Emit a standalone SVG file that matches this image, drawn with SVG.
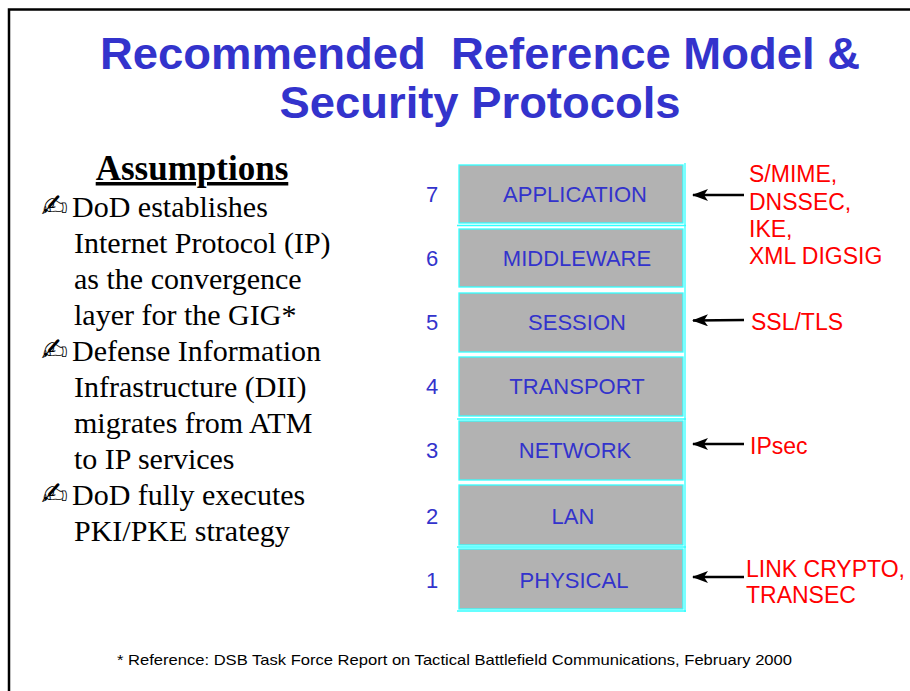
<svg xmlns="http://www.w3.org/2000/svg" width="910" height="691" viewBox="0 0 910 691">
<style>
.title{font-family:"Liberation Sans",Arial,sans-serif;font-weight:bold;font-size:45px;fill:#3333cc;text-anchor:middle;white-space:pre}
.body{font-family:"Liberation Serif","Times New Roman",serif;font-size:30px;fill:#000}
.bul{font-family:"DejaVu Sans",sans-serif;font-size:32px;fill:#000}
.box{fill:#b2b2b2;stroke:#33ffff;stroke-width:1.3}
.lbl{font-family:"Liberation Sans",Arial,sans-serif;font-size:22px;fill:#3333cc;text-anchor:middle}
.num{font-family:"Liberation Sans",Arial,sans-serif;font-size:22px;fill:#3333cc;text-anchor:middle}
.red{font-family:"Liberation Sans",Arial,sans-serif;font-size:23px;fill:#ff0000}
.cy{stroke:#33ffff;stroke-width:1.3;fill:none}
.arr{stroke:#000;stroke-width:2.5;fill:none}
.foot{font-family:"Liberation Sans",Arial,sans-serif;font-size:15px;fill:#000}
</style>
<defs>
<marker id="ah" markerWidth="16" markerHeight="12" refX="15" refY="6" orient="auto" markerUnits="userSpaceOnUse">
<path d="M0,0 L16,6 L0,12 L4,6 Z" fill="#000"/>
</marker>
</defs>
<rect x="0" y="0" width="910" height="691" fill="#fff"/>
<path d="M9,691 V9.5 H910" stroke="#000" stroke-width="2.5" fill="none"/>
<g id="title">
<text class="title" x="480" y="69" textLength="760" lengthAdjust="spacingAndGlyphs" xml:space="preserve">Recommended  Reference Model &amp;</text>
<text class="title" x="480" y="118" textLength="401" lengthAdjust="spacingAndGlyphs">Security Protocols</text>
</g>
<g id="assumptions">
<text x="192" y="180" font-family="Liberation Serif,serif" font-weight="bold" font-size="35" text-anchor="middle" text-decoration="underline">Assumptions</text>
<text class="bul" x="41" y="217">✍</text>
<text class="bul" x="41" y="361">✍</text>
<text class="bul" x="41" y="505">✍</text>
<text class="body" x="72" y="217">DoD establishes</text>
<text class="body" x="74" y="253">Internet Protocol (IP)</text>
<text class="body" x="74" y="289">as the convergence</text>
<text class="body" x="74" y="325">layer for the GIG*</text>
<text class="body" x="72" y="361">Defense Information</text>
<text class="body" x="74" y="397">Infrastructure (DII)</text>
<text class="body" x="74" y="433">migrates from ATM</text>
<text class="body" x="74" y="469">to IP services</text>
<text class="body" x="72" y="505">DoD fully executes</text>
<text class="body" x="74" y="541">PKI/PKE strategy</text>
</g>
<g id="layer7"><rect class="box" x="459" y="165" width="224" height="58"/><text class="lbl" x="575" y="202">APPLICATION</text><text class="num" x="432" y="202">7</text></g>
<g id="layer6"><rect class="box" x="459" y="229" width="224" height="58"/><text class="lbl" x="577" y="266">MIDDLEWARE</text><text class="num" x="432" y="266">6</text></g>
<g id="layer5"><rect class="box" x="459" y="293" width="224" height="59"/><text class="lbl" x="577" y="330">SESSION</text><text class="num" x="432" y="330">5</text></g>
<g id="layer4"><rect class="box" x="459" y="357" width="224" height="59"/><text class="lbl" x="577" y="394">TRANSPORT</text><text class="num" x="432" y="394">4</text></g>
<g id="layer3"><rect class="box" x="459" y="421" width="224" height="59"/><text class="lbl" x="575" y="458">NETWORK</text><text class="num" x="432" y="458">3</text></g>
<g id="layer2"><rect class="box" x="459" y="485" width="224" height="60"/><text class="lbl" x="573" y="524">LAN</text><text class="num" x="432" y="524">2</text></g>
<g id="layer1"><rect class="box" x="459" y="549" width="224" height="60"/><text class="lbl" x="574" y="588">PHYSICAL</text><text class="num" x="432" y="588">1</text></g>
<g id="frame-lines">
<path class="cy" d="M685,163 V612 M457,225.5 H686 M457,419 H686 M457,547 H686 M457,611 H686"/>
</g>
<g id="protocols">
<text class="red" x="749" y="182">S/MIME,</text>
<text class="red" x="749" y="210">DNSSEC,</text>
<text class="red" x="749" y="237">IKE,</text>
<text class="red" x="749" y="264">XML DIGSIG</text>
<text class="red" x="751" y="330">SSL/TLS</text>
<text class="red" x="750" y="454">IPsec</text>
<text class="red" x="746" y="577">LINK CRYPTO,</text>
<text class="red" x="746" y="603">TRANSEC</text>
</g>
<g id="connectors">
<line class="arr" x1="744" y1="195" x2="693" y2="195" marker-end="url(#ah)"/>
<line class="arr" x1="744" y1="320" x2="693" y2="320.5" marker-end="url(#ah)"/>
<line class="arr" x1="744" y1="444" x2="693" y2="444" stroke-width="4" marker-end="url(#ah)"/>
<line class="arr" x1="744" y1="577" x2="693" y2="577" marker-end="url(#ah)"/>
</g>
<g id="footnote">
<text class="foot" x="117" y="665" textLength="675" lengthAdjust="spacingAndGlyphs">* Reference: DSB Task Force Report on Tactical Battlefield Communications, February 2000</text>
</g>
</svg>
